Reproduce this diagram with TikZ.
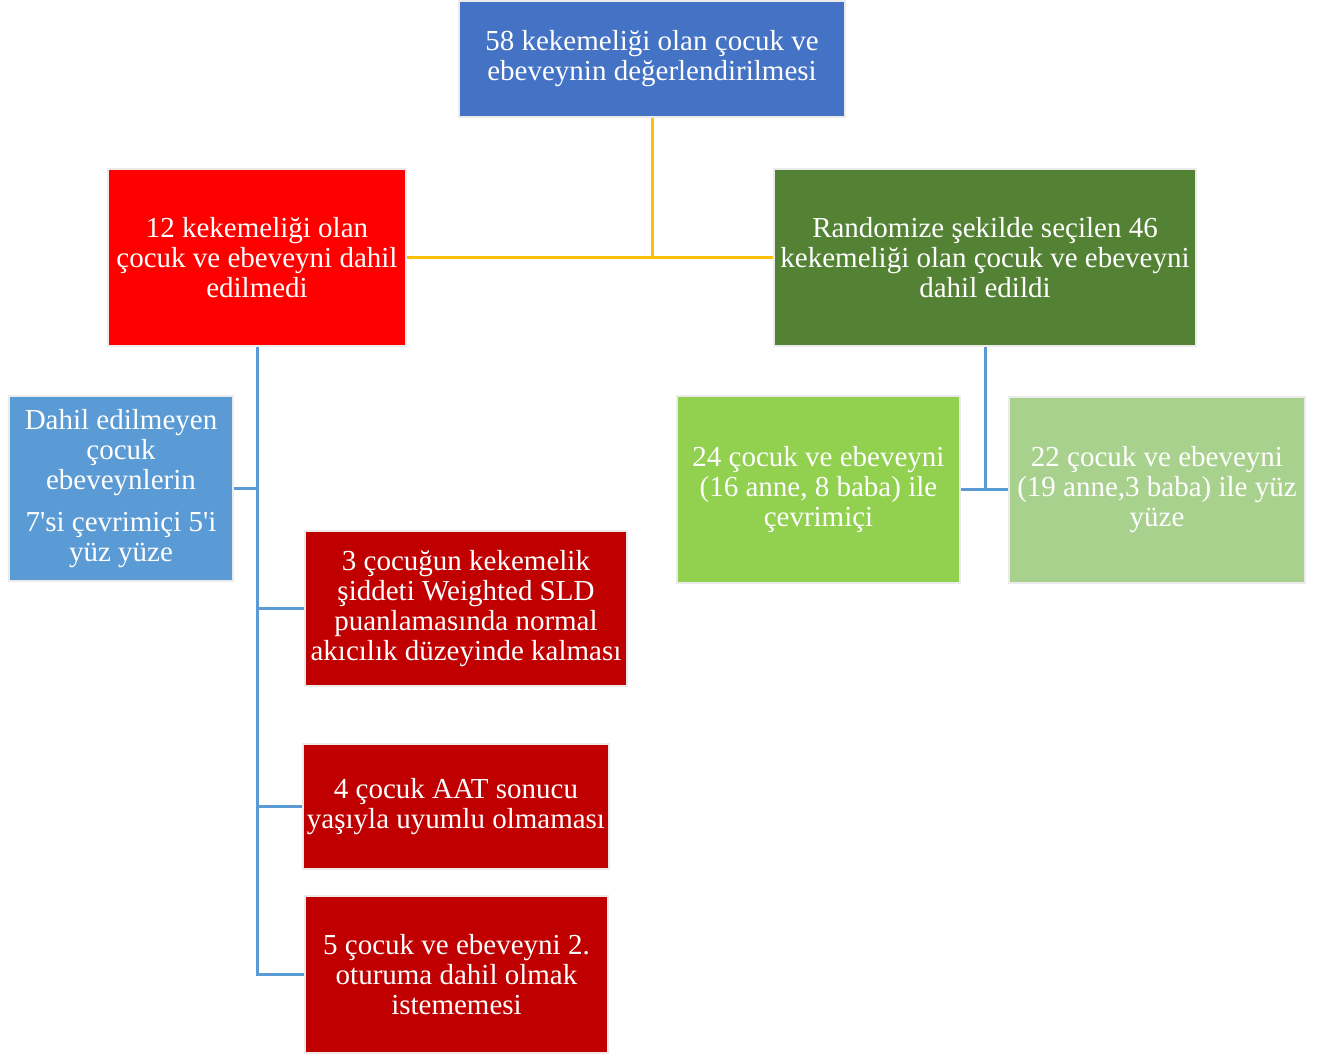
\documentclass[tikz,border=0pt]{standalone}
\usepackage{fontspec}
\setmainfont{Liberation Serif}
\definecolor{topblue}{HTML}{4472C4}
\definecolor{lineblue}{HTML}{5B9BD5}
\definecolor{darkred}{HTML}{C00000}
\definecolor{darkgreen}{HTML}{548235}
\definecolor{midgreen}{HTML}{92D050}
\definecolor{palegreen}{HTML}{A9D18E}
\definecolor{linegold}{HTML}{FFC000}
\tikzset{
  box/.style={draw=black!8, line width=2pt, text=white, align=center, inner sep=0pt,
    font=\fontsize{29}{30}\selectfont},
  goldline/.style={draw=linegold, line width=3pt},
  blueline/.style={draw=lineblue, line width=3pt},
}
\begin{document}
\begin{tikzpicture}[x=1pt,y=-1pt]
        \useasboundingbox (0, 0) rectangle (1318, 1053);
        \node[box, fill=topblue, minimum width=386, minimum height=116] (root) at (652, 59)
          {58 kekemeliği olan çocuk ve\\ebeveynin değerlendirilmesi};
        \node[box, fill=red, minimum width=298, minimum height=177] (excl) at (257, 257.5)
          {12 kekemeliği olan\\çocuk ve ebeveyni dahil\\edilmedi};
        \node[box, fill=darkgreen, minimum width=422, minimum height=177] (incl) at (985, 257.5)
          {Randomize şekilde seçilen 46\\kekemeliği olan çocuk ve ebeveyni\\dahil edildi};
        % excluded side
        \node[box, fill=lineblue, minimum width=224, minimum height=185] (parents) at (121, 488.5)
          {Dahil edilmeyen\\çocuk\\ebeveynlerin\\[12pt]7\textquotesingle si çevrimiçi 5\textquotesingle i\\yüz yüze};
        \node[box, fill=darkred, minimum width=322, minimum height=155] (sld) at (466, 608.5)
          {3 çocuğun kekemelik\\şiddeti Weighted SLD\\puanlamasında normal\\akıcılık düzeyinde kalması};
        \node[box, fill=darkred, minimum width=306, minimum height=125] (aat) at (456, 806.5)
          {4 çocuk AAT sonucu\\yaşıyla uyumlu olmaması};
        \node[box, fill=darkred, minimum width=303, minimum height=157] (quit) at (456.5, 974.5)
          {5 çocuk ve ebeveyni 2.\\oturuma dahil olmak\\istememesi};
        % included side
        \node[box, fill=midgreen, minimum width=283, minimum height=187] (online) at (818.5, 489.5)
          {24 çocuk ve ebeveyni\\(16 anne, 8 baba) ile\\çevrimiçi};
        \node[box, fill=palegreen, minimum width=296, minimum height=186] (face) at (1157, 489.5)
          {22 çocuk ve ebeveyni\\(19 anne,3 baba) ile yüz\\yüze};
        \draw[goldline] (root.south) -- (root.south |- excl.east);
        \draw[goldline] (excl.east) -- (incl.west);
        \draw[blueline] (excl.south) -- (excl.south |- quit.west) -- (quit.west);
        \draw[blueline] (excl.south |- parents.east) -- (parents.east);
        \draw[blueline] (excl.south |- sld.west) -- (sld.west);
        \draw[blueline] (excl.south |- aat.west) -- (aat.west);
        \draw[blueline] (incl.south) -- (incl.south |- online.east);
        \draw[blueline] (online.east) -- (face.west);
      \end{tikzpicture}
\end{document}
